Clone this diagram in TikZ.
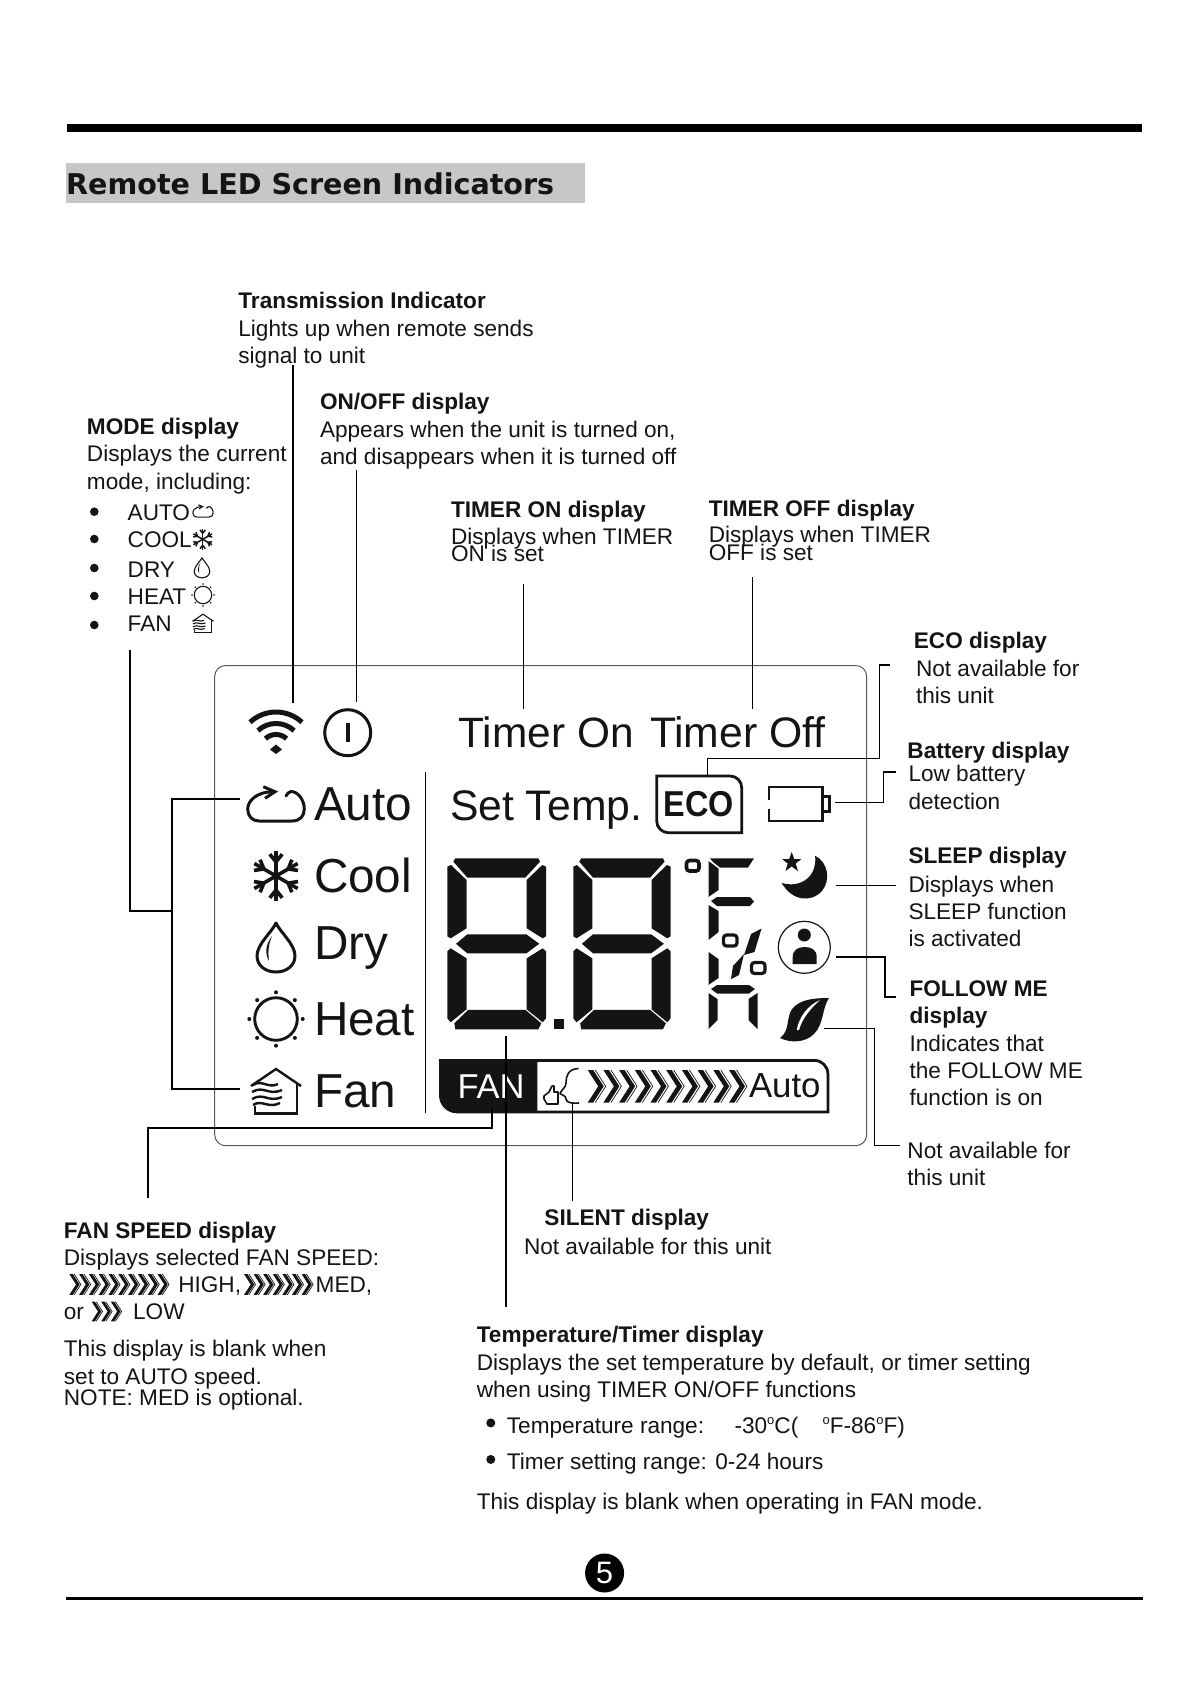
\documentclass[tikz,border=0pt]{standalone}
\usepackage{fontspec}
\setmainfont{Liberation Sans}
\newfontfamily\titlefont[BoldFeatures={FakeBold=0.9}]{DejaVu Sans Bold}
\definecolor{ink}{HTML}{141414}
\newcommand{\degmark}{\raisebox{.42em}{\fontsize{13}{13}\selectfont o}}
\tikzset{
 txt/.style={anchor=base west,inner sep=0pt,outer sep=0pt,text=ink,font=\fontsize{22.6}{27}\selectfont},
 btxt/.style={txt,font=\fontsize{22.6}{27}\selectfont\bfseries},
 lcd/.style={anchor=base west,inner sep=0pt,outer sep=0pt,text=ink},
 conn/.style={draw=black,line width=1.4pt},
 digit/.pic={
  \fill[ink] (8,0)--(91,0)--(92.7,3.3)--(78,19.3)--(20,19.3)--(6,3.3)--cycle;
  \fill[ink] (0,8.3)--(3.7,6.7)--(19.3,21.7)--(19.3,70)--(3.3,80)--(0,78)--cycle;
  \fill[ink] (98.7,8.3)--(95,6.7)--(79.4,21.7)--(79.4,70)--(95.4,80)--(98.7,78)--cycle;
  \fill[ink] (8.7,85.5)--(20,76)--(79,76)--(92,85.5)--(79,95)--(20,95)--cycle;
  \fill[ink] (0,93)--(3.3,90)--(19.3,100)--(19.3,151)--(3.3,164)--(0,160)--cycle;
  \fill[ink] (98.7,93)--(95.4,90)--(79.4,100)--(79.4,151)--(95.4,164)--(98.7,160)--cycle;
  \fill[ink] (8,171)--(91,171)--(94,165)--(78,151.5)--(21,151.5)--(7,165)--cycle;
 },
 autoicon/.pic={
  \draw[ink,line join=round,line cap=round] (-3,-12.3) .. controls (-18,-12.3) and (-28.3,-4) .. (-28.3,5) .. controls (-28.3,12) and (-24,17) .. (-17,17) -- (16,17) .. controls (24,17) and (28.3,12) .. (28.3,5) .. controls (28.3,-4) and (22,-12.5) .. (15,-12.5) .. controls (13,-12.5) and (11,-10) .. (10,-8);
  \draw[ink,line join=miter] (-12.7,-17.3)--(-1,-12.3)--(-11,-5.7);
 },
 snowicon/.pic={
  \foreach \a in {90,30,-30,-90,150,210}{
   \draw[ink] (0,0)--(\a:25);
   \draw[ink] (\a:14)--++(\a+38:10);
   \draw[ink] (\a:14)--++(\a-38:10);
  }
 },
 dropicon/.pic={
  \draw[ink,line join=round] (0,-25) .. controls (-4,-16) and (-19,-4) .. (-19,8) .. controls (-19,18) and (-10,24) .. (0,24) .. controls (10,24) and (19,18) .. (19,8) .. controls (19,-4) and (4,-16) .. cycle;
  \fill[ink] (-4,-12) .. controls (-11,-3) and (-11,6) .. (-7,13) .. controls (-8,5) and (-8,-3) .. (-4,-12) -- cycle;
 },
 sunicon/.pic={
  \draw[ink] (0,0) circle (21.3);
  \foreach \a in {0,45,...,315}{\fill[ink] (\a:26.7) circle (2);}
 },
 houseicon/.pic={
  \draw[ink,line join=miter] (-25,-4)--(0,-21)--(25,-4);
  \draw[ink,line join=miter] (20.7,-7)--(20.7,23.3)--(-21,23.3)--(-21,16);
  \draw[ink] (-23,-5) .. controls (-14,-11) and (-8,-1) .. (2,-6);
  \draw[ink] (-24,2) .. controls (-12,-5) and (-8,6) .. (6,0);
  \draw[ink] (-24,9) .. controls (-12,2) and (-8,13) .. (6,7);
  \draw[ink] (-23,15) .. controls (-14,9) and (-8,19) .. (4,13);
 },
 chev/.pic={
  \fill[ink] (0,0)--(5.5,0)--(16,16.3)--(5.5,32.6)--(0,32.6)--(10.5,16.3)--cycle;
  \draw[ink,line width=.7pt] (7.5,0)--(18,16.3)--(7.5,32.6);
 },
}
\begin{document}
\begin{tikzpicture}[x=1pt,y=-1pt]
\useasboundingbox (0,0) rectangle (1191,1684);
% page furniture
\fill[black] (67,123.5) rectangle (1142,132);
\fill[black!22] (65.5,163) rectangle (585,203);
\draw[black,line width=3pt] (65.5,1598)--(1143,1598);
\fill[black] (604.6,1573) circle (19.5);
\node[inner sep=0pt,text=white,font=\fontsize{31}{31}\selectfont] (pgnum) at (604.6,1573) {5};
\node[anchor=base west,inner sep=0pt,text=ink,font=\titlefont\fontsize{28.6}{30}\selectfont\bfseries] (title) at (66,194) {Remote LED Screen Indicators};
% LCD frame
\draw[black!65,line width=1pt,rounded corners=11pt] (214.7,665.5) rectangle (866.7,1145.7);
\draw[black,line width=1.5pt] (425.3,772) coordinate (diva) -- (425.3,1113) coordinate (divb);
% top row
\draw[ink,line width=5pt] (276,750) ++(-47:38) arc (-47:-133:38);
\draw[ink,line width=5pt] (276,750) ++(-47:26.5) arc (-47:-133:26.5);
\draw[ink,line width=5pt] (276,750) ++(-47:15.5) arc (-47:-133:15.5);
\fill[ink] (276,744.5)--(282,749.5)--(276,754)--(270,749.5)--cycle;
\draw[ink,line width=3pt] (347.7,732.7) circle (23);
\draw[ink,line width=3.6pt] (347.7,723)--(347.7,742);
\node[lcd,font=\fontsize{42.4}{41}\selectfont] (tmon) at (458.5,747.3) {Timer On};
\node[lcd,font=\fontsize{42.7}{41}\selectfont] (tmoff) at (650,747.3) {Timer Off};
% left column
\pic[line width=3pt] at (276,804) {autoicon};
\pic[line width=3.6pt] at (276,876) {snowicon};
\pic[line width=3pt] at (276,948) {dropicon};
\pic[line width=2.9pt] at (276,1019) {sunicon};
\pic[line width=2.4pt] at (276,1090) {houseicon};
\node[lcd,font=\fontsize{47.7}{47}\selectfont] (lauto) at (314,820) {Auto};
\node[lcd,font=\fontsize{47.7}{47}\selectfont] (lcool) at (314,892.3) {Cool};
\node[lcd,font=\fontsize{47.7}{47}\selectfont] (ldry) at (314.5,959) {Dry};
\node[lcd,font=\fontsize{47.7}{47}\selectfont] (lheat) at (314,1035.7) {Heat};
\node[lcd,font=\fontsize{47.7}{47}\selectfont] (lfan) at (314,1107.7) {Fan};
% set temp row
\node[lcd,font=\fontsize{42.7}{41}\selectfont] (settemp) at (450,820) {Set Temp.};
\draw[ink,line width=2.8pt,line join=miter] (656.7,776) -- (730,776) arc (-90:0:11.7) -- (741.7,832.7) -- (668.4,832.7) arc (90:180:11.7) -- cycle;
\node[lcd,font=\fontsize{36}{36}\selectfont\bfseries] (eco) at (663.5,816.7) {\scalebox{.9}[1]{ECO}};
\draw[ink,line width=2.8pt] (769,800)--(769,787)--(822.7,787)--(822.7,821)--(769,821)--(769,809);
\draw[ink,line width=2.8pt] (822.7,796.7)--(829.3,796.7)--(829.3,811.7)--(822.7,811.7);
% digits
\pic at (447.3,858.3) {digit};
\pic[xscale=.985] at (573.3,858.3) {digit};
\fill[ink] (554,1019) rectangle (564.3,1029.3);
% F, percent, h
\draw[ink,line width=3.6pt,rounded corners=3pt] (686.5,860.5) rectangle (699,871);
\fill[ink] (710,858.3)--(754,858.3)--(748,867.5)--(720,867.5)--(713,862)--cycle;
\fill[ink] (708.5,861)--(718.5,868.5)--(718.5,890)--(708.5,897)--cycle;
\fill[ink] (711,901)--(717,897)--(750,897)--(754,901.5)--(750,906)--(717,906)--cycle;
\fill[ink] (708.5,905)--(718.5,911)--(718.5,932)--(708.5,940)--cycle;
\fill[ink] (708.5,952)--(718.5,959)--(718.5,978)--(708.5,985)--cycle;
\fill[ink] (711,989)--(717,985)--(749,985)--(755,989)--(749,993.5)--(717,993.5)--cycle;
\fill[ink] (708.5,993)--(717.5,999)--(717.5,1020)--(708.5,1029)--cycle;
\fill[ink] (757.5,993)--(748.5,999)--(748.5,1020)--(757.5,1029)--cycle;
\draw[ink,line width=3.2pt,rounded corners=3pt] (723.5,935) rectangle (737,946);
\draw[ink,line width=3.2pt,rounded corners=3pt] (751.5,962.5) rectangle (765,973.5);
\fill[ink] (761.5,928.5)--(754.5,952)--(744,955)--(751,934)--cycle;
\fill[ink] (744,954)--(739,975)--(731,979)--(733,966)--cycle;
% right icons
\fill[ink] (815,855.7) .. controls (828,862) and (831,880) .. (822,891) .. controls (811,903) and (792,901) .. (781.7,883) .. controls (795,887) and (808,882) .. (813,871) .. controls (815,866) and (816,860) .. (815,855.7) -- cycle;
\fill[ink] (791.7,852) -- (794.2,859) -- (801.5,859) -- (795.7,863.5) -- (798,871) -- (791.7,866.5) -- (785.4,871) -- (787.7,863.5) -- (782,859) -- (789.2,859) -- cycle;
\draw[ink,line width=1.2pt] (804.3,947.3) circle (26);
\fill[ink] (804.3,935) circle (6.5);
\fill[ink] (792.7,964) -- (792.7,957) .. controls (792.7,950) and (798,947) .. (804.7,947) .. controls (811.5,947) and (816.7,950) .. (816.7,957) -- (816.7,964) -- cycle;
\fill[ink] (829,998) .. controls (815,998) and (800,999) .. (792,1009) .. controls (786,1018) and (790,1031) .. (780,1038) .. controls (790,1043) and (805,1043) .. (814,1034) .. controls (824,1024) and (822,1008) .. (829,998) -- cycle;
\fill[white] (796.7,1030) .. controls (799,1017) and (808,1005) .. (820,1000) .. controls (810,1009) and (802,1019) .. (799,1030) -- cycle;
% fan bar
\draw[ink,line width=2.8pt,line join=miter] (537,1060.4) -- (814.4,1060.4) arc (-90:0:13.5) -- (827.9,1112) -- (537,1112);
\fill[ink] (439,1059) -- (537.3,1059) -- (537.3,1113.3) -- (457,1113.3) arc (90:180:18) -- cycle;
\node[lcd,text=white,font=\fontsize{34.5}{34}\selectfont] (fantxt) at (457.5,1098.3) {FAN};
\node[lcd,font=\fontsize{34.8}{34}\selectfont] (autotxt) at (749,1097.7) {Auto};
\draw[ink,line width=1.6pt,line join=round] (578.5,1068.5) .. controls (568,1069) and (566,1076) .. (566,1083) .. controls (566,1088) and (561,1090) .. (560,1093.5) .. controls (562,1096) and (566,1095) .. (566,1099) .. controls (566,1103) and (573,1103.5) .. (579,1103);
\draw[ink,line width=1.6pt,line join=round] (544,1096) -- (549,1092) -- (552,1086) -- (554,1086) -- (554,1092) -- (558,1092) -- (558,1104) -- (547,1104) -- (544,1099) -- cycle;
\foreach \i in {0,...,9}{\pic at ({587.7+\i*15.7},1070) {chev};}
% connectors
\coordinate (ta) at (293,365); \coordinate (tb) at (293,702.7);
\draw[conn] (ta)--(tb);
\coordinate (oa) at (356.7,470); \coordinate (ob) at (356.7,701.7);
\draw[conn] (oa)--(ob);
\coordinate (na) at (523.3,584); \coordinate (nb) at (523.3,709.3);
\draw[conn,line width=1pt] (na)--(nb);
\coordinate (fa) at (752.7,577); \coordinate (fb) at (752.7,709.3);
\draw[conn] (fa)--(fb);
\coordinate (ea) at (707.3,775); \coordinate (eb) at (890,665);
\draw[conn] (ea)--(707.3,758.3)--(879.7,758.3)--(879.7,665)--(eb);
\coordinate (ba) at (835,802.3); \coordinate (bb) at (896,772);
\draw[conn] (ba)--(883.7,802.3)--(883.7,772)--(bb);
\coordinate (sa) at (836,885.7); \coordinate (sb) at (896,885.7);
\draw[conn] (sa)--(sb);
\coordinate (ma) at (836,956.7); \coordinate (mb) at (896,996.7);
\draw[conn,line width=1.8pt] (ma)--(885,956.7)--(885,996.7)--(mb);
\coordinate (la) at (824.3,1028.3); \coordinate (lb) at (900,1145.7);
\draw[conn] (la)--(874.3,1028.3)--(874.3,1145.7)--(lb);
\coordinate (ua) at (506,1036); \coordinate (ub) at (506,1307);
\draw[conn,line width=2pt] (ua)--(ub);
\coordinate (ia) at (572.3,1102.7); \coordinate (ib) at (572.3,1200.7);
\draw[conn,line width=1pt] (ia)--(ib);
\coordinate (ga) at (491.7,1108); \coordinate (gb) at (148,1197.5);
\draw[conn,line width=1.8pt] (ga)--(491.7,1128.3)--(148,1128.3)--(gb);
\coordinate (xa) at (130,650); \coordinate (xb) at (172,911);
\draw[conn] (xa)--(130,911)--(xb);
\coordinate (ya) at (240,799); \coordinate (yb) at (240,1089);
\draw[conn,line width=1.8pt] (ya)--(172,799)--(172,1089)--(yb);
% mode list
\foreach \y in {511.7,539,568,596,625}{\fill[ink] (94.3,\y) circle (4.3);}
\pic[scale=.36,line width=1.1pt] at (203,511) {autoicon};
\pic[scale=.43,line width=1.5pt] at (202.7,539.3) {snowicon};
\pic[scale=.41,line width=1.1pt] at (202,568) {dropicon};
\pic[scale=.41,line width=1.1pt] at (203,595) {sunicon};
\pic[scale=.42,line width=1.1pt] at (203,623) {houseicon};
% chevrons in fan speed text
\foreach \i in {0,...,9}{\pic[scale=.64] at ({69.3+\i*9.8},1274) {chev};}
\foreach \i in {0,...,6}{\pic[scale=.64] at ({244+\i*9.6},1274) {chev};}
\foreach \i in {0,1,2}{\pic[scale=.6] at ({91.7+\i*9.6},1301.7) {chev};}
% texts (shown-scale coordinates)
\begin{scope}[x=1.0739pt,y=-1.0739pt]
\node[btxt] (a1) at (222,287) {Transmission Indicator};
\node[txt] (a2) at (222,313) {Lights up when remote sends};
\node[txt] (a3) at (222,338.5) {signal to unit};
\node[btxt] (b1) at (298,381) {ON/OFF display};
\node[txt] (b2) at (298,407) {Appears when the unit is turned on,};
\node[txt] (b3) at (298,432.5) {and disappears when it is turned off};
\node[btxt] (c1) at (81,405) {MODE display};
\node[txt] (c2) at (81,430) {Displays the current};
\node[txt] (c3) at (81,456) {mode, including:};
\node[txt] (c4) at (118.9,485) {AUTO};
\node[txt] (c5) at (118.9,510) {COOL};
\node[txt] (c6) at (118.9,538) {DRY};
\node[txt] (c7) at (118.9,563) {HEAT};
\node[txt] (c8) at (118.9,588) {FAN};
\node[btxt] (d1) at (420,482) {TIMER ON display};
\node[txt] (d2) at (420,507) {Displays when TIMER};
\node[txt] (d3) at (420,523) {ON is set};
\node[btxt] (e1) at (660,481) {TIMER OFF display};
\node[txt] (e2) at (660,505) {Displays when TIMER};
\node[txt] (e3) at (660,522) {OFF is set};
\node[btxt] (f1) at (851,604) {ECO display};
\node[txt] (f2) at (853,630) {Not available for};
\node[txt] (f3) at (853,655) {this unit};
\node[btxt] (g1) at (845,706) {Battery display};
\node[txt] (g2) at (846,728) {Low battery};
\node[txt] (g3) at (846,754) {detection};
\node[btxt] (h1) at (846,804) {SLEEP display};
\node[txt] (h2) at (846,831) {Displays when};
\node[txt] (h3) at (846,856) {SLEEP function};
\node[txt] (h4) at (846,881) {is activated};
\node[btxt] (i1) at (847,928) {FOLLOW ME};
\node[btxt] (i2) at (847,953) {display};
\node[txt] (i3) at (847,979) {Indicates that};
\node[txt] (i4) at (847,1004) {the FOLLOW ME};
\node[txt] (i5) at (847,1029) {function is on};
\node[txt] (j1) at (845,1079) {Not available for};
\node[txt] (j2) at (845,1104) {this unit};
\node[btxt] (k1) at (59.5,1153) {FAN SPEED display};
\node[txt] (k2) at (59.5,1178) {Displays selected FAN SPEED:};
\node[txt] (k3) at (166,1204) {HIGH,};
\node[txt] (k4) at (294,1204) {MED,};
\node[txt] (k5) at (59.5,1229) {or};
\node[txt] (k6) at (124,1229) {LOW};
\node[txt] (k7) at (59.5,1263) {This display is blank when};
\node[txt] (k8) at (59.5,1289) {set to AUTO speed.};
\node[txt] (k9) at (59.5,1309) {NOTE: MED is optional.};
\node[btxt] (l1) at (507,1141) {SILENT display};
\node[txt] (l2) at (488,1168) {Not available for this unit};
\node[btxt] (m1) at (444,1250) {Temperature/Timer display};
\node[txt] (m2) at (444,1276) {Displays the set temperature by default, or timer setting};
\node[txt] (m3) at (444,1301) {when using TIMER ON/OFF functions};
\fill[ink] (457,1325) circle (4.2);
\fill[ink] (457,1359) circle (4.2);
\node[txt] (m4) at (472,1335) {Temperature range:};
\node[txt] (m5) at (684,1335) {-30\degmark C(};
\node[txt] (m6) at (766,1335) {\degmark F-86\degmark F)};
\node[txt] (m7) at (472,1368.5) {Timer setting range: 0-24 hours};
\node[txt] (m8) at (444,1406) {This display is blank when operating in FAN mode.};
\end{scope}
\end{tikzpicture}
\end{document}
